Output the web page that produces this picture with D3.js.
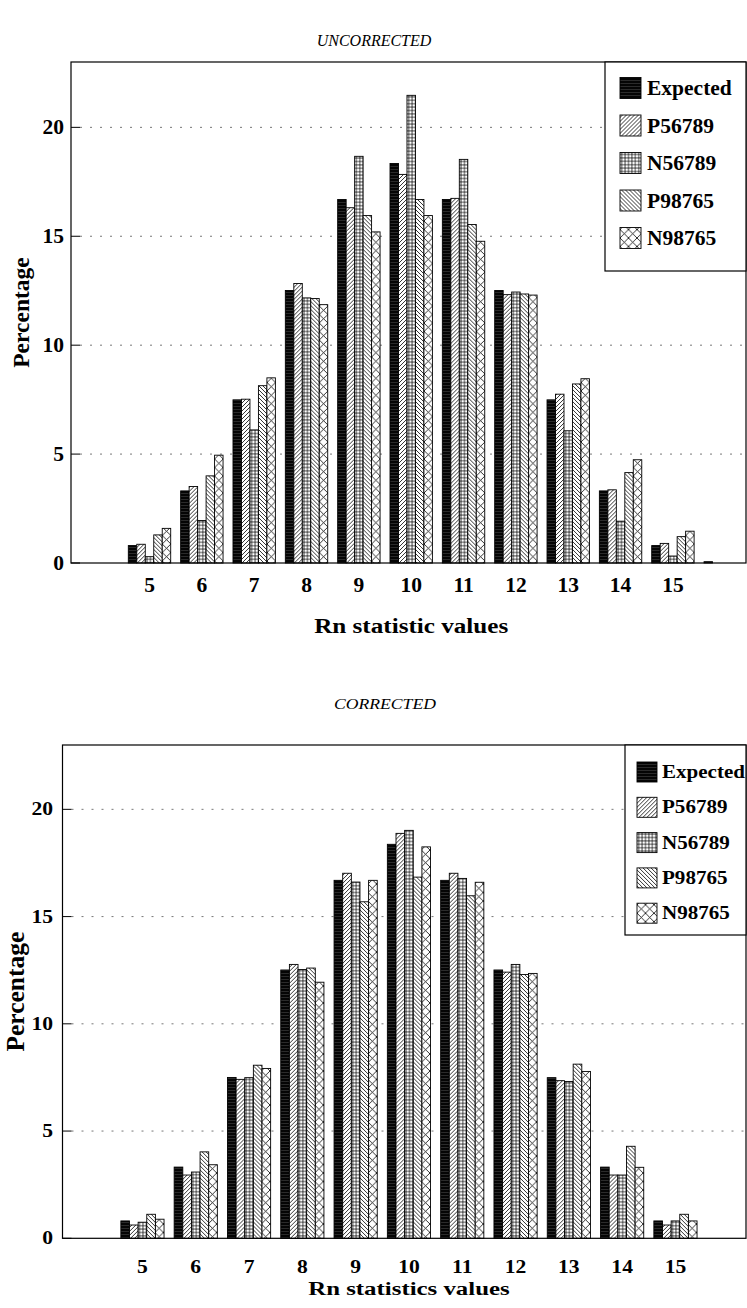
<!DOCTYPE html>
<html>
<head>
<meta charset="utf-8">
<script src="https://cdn.jsdelivr.net/npm/d3@7"></script>
<style>
  body { margin: 0; background: #fff; }
  svg { display: block; }
</style>
</head>
<body>
<svg id="chart"></svg>
<script>
// categories on the x axis (Rn values)
const categories = [4, 5, 6, 7, 8, 9, 10, 11, 12, 13, 14, 15, 16];
const seriesNames = ["Expected", "P56789", "N56789", "P98765", "N98765"];
const yTicks = [0, 5, 10, 15, 20];

// uncorrected percentages, one value per category
const expectedUnc = [0, 0.80, 3.31, 7.49, 12.51, 16.69, 18.34, 16.69, 12.51, 7.49, 3.31, 0.80, 0.06];
const p56789Unc = [0, 0.86, 3.51, 7.52, 12.83, 16.31, 17.84, 16.74, 12.32, 7.75, 3.36, 0.90, 0];
const n56789Unc = [0, 0.29, 1.95, 6.11, 12.17, 18.67, 21.47, 18.53, 12.44, 6.07, 1.92, 0.32, 0];
const p98765Unc = [0, 1.29, 4.00, 8.14, 12.14, 15.95, 16.69, 15.54, 12.35, 8.22, 4.15, 1.21, 0];
const n98765Unc = [0, 1.59, 4.95, 8.50, 11.86, 15.20, 15.95, 14.77, 12.30, 8.46, 4.74, 1.46, 0];

// corrected percentages
const expectedCor = [0, 0.81, 3.32, 7.50, 12.51, 16.69, 18.37, 16.69, 12.51, 7.49, 3.32, 0.81, 0];
const p56789Cor = [0, 0.62, 2.95, 7.41, 12.77, 17.02, 18.88, 17.02, 12.41, 7.35, 2.95, 0.62, 0];
const n56789Cor = [0, 0.75, 3.09, 7.49, 12.53, 16.61, 19.02, 16.78, 12.77, 7.31, 2.95, 0.81, 0];
const p98765Cor = [0, 1.12, 4.03, 8.07, 12.60, 15.69, 16.84, 15.97, 12.30, 8.12, 4.29, 1.12, 0];
const n98765Cor = [0, 0.89, 3.43, 7.92, 11.94, 16.69, 18.25, 16.60, 12.35, 7.78, 3.31, 0.81, 0];

const width = 747;
const height = 1308;
const serif = "'Liberation Serif', 'Times New Roman', serif";

const svg = d3.select("#chart")
  .attr("width", width)
  .attr("height", height)
  .attr("viewBox", [0, 0, width, height]);

// fill patterns, one per series
const defs = svg.append("defs");
const patterns = [
  { id: "pat0", size: 3, bg: "#050505", d: "M0,1.5 H3", stroke: "#444", sw: 0.6 },
  { id: "pat1", size: 4, bg: "#fff", d: "M-1,1 L1,-1 M0,4 L4,0 M3,5 L5,3", stroke: "#000", sw: 0.8 },
  { id: "pat2", size: 3.4, bg: "#fff", d: "M0,1.7 H3.4 M1.7,0 V3.4", stroke: "#000", sw: 0.7 },
  { id: "pat3", size: 4, bg: "#fff", d: "M-1,3 L1,5 M0,0 L4,4 M3,-1 L5,1", stroke: "#000", sw: 0.8 },
  { id: "pat4", size: 8.5, bg: "#fff", d: "M0,0 L8.5,8.5 M8.5,0 L0,8.5", stroke: "#000", sw: 0.8 },
];
patterns.forEach((p) => {
  const pat = defs.append("pattern")
    .attr("id", p.id)
    .attr("patternUnits", "userSpaceOnUse")
    .attr("width", p.size)
    .attr("height", p.size);
  pat.append("rect").attr("width", p.size).attr("height", p.size).attr("fill", p.bg);
  pat.append("path").attr("d", p.d).attr("stroke", p.stroke).attr("stroke-width", p.sw).attr("fill", "none");
});

function barChart({ series, title, titleX, titleY, titleSize, xTitle, xTitleSx, left, top, bottom, right, step,
  fontSize, sx, legend, yLabelX, xLabelY, xTitleY, yTitleX, yTitleSize }) {

  const g = svg.append("g");
  const boldFont = `bold ${fontSize}px ${serif}`;

  const scaleX = d3.scaleBand()
    .domain(categories)
    .range([left, left + step * categories.length])
    .paddingInner(0.19)
    .paddingOuter(0.095);

  const scaleSeries = d3.scaleBand()
    .domain(seriesNames)
    .range([0, scaleX.bandwidth()]);

  const scaleY = d3.scaleLinear()
    .domain([0, 23])
    .range([bottom, top]);

  // title
  g.append("text")
    .attr("transform", `translate(${titleX},${titleY}) scale(${sx},1)`)
    .attr("text-anchor", "middle")
    .style("font", `italic ${titleSize}px ${serif}`)
    .text(title);

  // dotted grid lines
  g.append("g")
    .selectAll("line")
    .data(yTicks.filter((d) => d > 0))
    .join("line")
    .attr("x1", left + 9)
    .attr("x2", right)
    .attr("y1", (d) => scaleY(d))
    .attr("y2", (d) => scaleY(d))
    .attr("stroke", "#777")
    .attr("stroke-width", 1)
    .attr("stroke-dasharray", "2,8");

  // bars
  const rows = categories.map((c, i) => ({
    cat: c,
    values: seriesNames.map((name, j) => ({ name, j, value: series[j][i] })),
  }));

  g.append("g")
    .selectAll("g")
    .data(rows)
    .join("g")
    .attr("transform", (d) => `translate(${scaleX(d.cat)},0)`)
    .selectAll("rect")
    .data((d) => d.values.filter((v) => v.value > 0))
    .join("rect")
    .attr("x", (d) => scaleSeries(d.name))
    .attr("y", (d) => scaleY(d.value))
    .attr("width", scaleSeries.bandwidth())
    .attr("height", (d) => scaleY(0) - scaleY(d.value))
    .attr("fill", (d) => `url(#pat${d.j})`)
    .attr("stroke", "#000")
    .attr("stroke-width", 0.9);

  // frame
  g.append("rect")
    .attr("x", left)
    .attr("y", top)
    .attr("width", right - left)
    .attr("height", bottom - top)
    .attr("fill", "none")
    .attr("stroke", "#000")
    .attr("stroke-width", 1.2);

  // y ticks and labels
  const yAxis = g.append("g");
  yAxis.selectAll("line")
    .data(yTicks)
    .join("line")
    .attr("x1", left)
    .attr("x2", left + 9)
    .attr("y1", (d) => scaleY(d))
    .attr("y2", (d) => scaleY(d))
    .attr("stroke", "#000");
  yAxis.selectAll("text")
    .data(yTicks)
    .join("text")
    .attr("transform", (d) => `translate(${yLabelX},${scaleY(d)}) scale(${sx},1)`)
    .attr("dy", "0.33em")
    .attr("text-anchor", "end")
    .style("font", boldFont)
    .text((d) => d);

  // x tick labels
  g.append("g")
    .selectAll("text")
    .data(categories.filter((c) => c >= 5 && c <= 15))
    .join("text")
    .attr("transform", (d) => `translate(${scaleX(d) + scaleX.bandwidth() / 2},${xLabelY}) scale(${sx},1)`)
    .attr("text-anchor", "middle")
    .style("font", boldFont)
    .text((d) => d);

  // axis titles
  const range = scaleX.range();
  g.append("text")
    .attr("transform", `translate(${(range[0] + range[1]) / 2},${xTitleY}) scale(${xTitleSx},1)`)
    .attr("text-anchor", "middle")
    .style("font", boldFont)
    .text(xTitle);

  g.append("text")
    .attr("transform", `translate(${yTitleX},${(top + bottom) / 2}) rotate(-90)`)
    .attr("text-anchor", "middle")
    .style("font", `bold ${yTitleSize}px ${serif}`)
    .text("Percentage");

  // legend box
  const lg = g.append("g");
  lg.append("rect")
    .attr("x", legend.x)
    .attr("y", top)
    .attr("width", right - legend.x)
    .attr("height", legend.bottom - top)
    .attr("fill", "#fff")
    .attr("stroke", "#000")
    .attr("stroke-width", 1.2);

  const items = lg.selectAll("g")
    .data(seriesNames)
    .join("g")
    .attr("transform", (d, i) => `translate(${legend.x + legend.swatchDx},${legend.firstY + i * legend.gap})`);

  items.append("rect")
    .attr("x", 0)
    .attr("y", -legend.swatch / 2)
    .attr("width", legend.swatch)
    .attr("height", legend.swatch)
    .attr("fill", (d, i) => `url(#pat${i})`)
    .attr("stroke", "#000")
    .attr("stroke-width", 0.9);

  items.append("text")
    .attr("transform", `translate(${legend.textDx},0) scale(${legend.sx},1)`)
    .attr("dy", "0.33em")
    .style("font", boldFont)
    .text((d) => d);
}

barChart({
  series: [expectedUnc, p56789Unc, n56789Unc, p98765Unc, n98765Unc],
  title: "UNCORRECTED",
  titleX: 374,
  titleY: 46,
  titleSize: 16,
  xTitle: "Rn statistic values",
  xTitleSx: 1.17,
  left: 71,
  top: 62,
  bottom: 563,
  right: 746,
  step: 52.34,
  fontSize: 21.5,
  sx: 1,
  yLabelX: 64,
  xLabelY: 592,
  xTitleY: 633,
  yTitleX: 29,
  yTitleSize: 23.5,
  legend: { x: 605, bottom: 271, swatchDx: 15, swatch: 21, textDx: 27, firstY: 88, gap: 37.5, sx: 1 },
});

barChart({
  series: [expectedCor, p56789Cor, n56789Cor, p98765Cor, n98765Cor],
  title: "CORRECTED",
  titleX: 385,
  titleY: 709,
  titleSize: 14.7,
  xTitle: "Rn statistics values",
  xTitleSx: 1.38,
  left: 62.5,
  top: 745,
  bottom: 1238.3,
  right: 746,
  step: 53.3,
  fontSize: 18,
  sx: 1.2,
  yLabelX: 53,
  xLabelY: 1273,
  xTitleY: 1295,
  yTitleX: 24,
  yTitleSize: 25.5,
  legend: { x: 625, bottom: 935, swatchDx: 12, swatch: 20, textDx: 25, firstY: 772, gap: 35.3, sx: 1.17 },
});
</script>
</body>
</html>
